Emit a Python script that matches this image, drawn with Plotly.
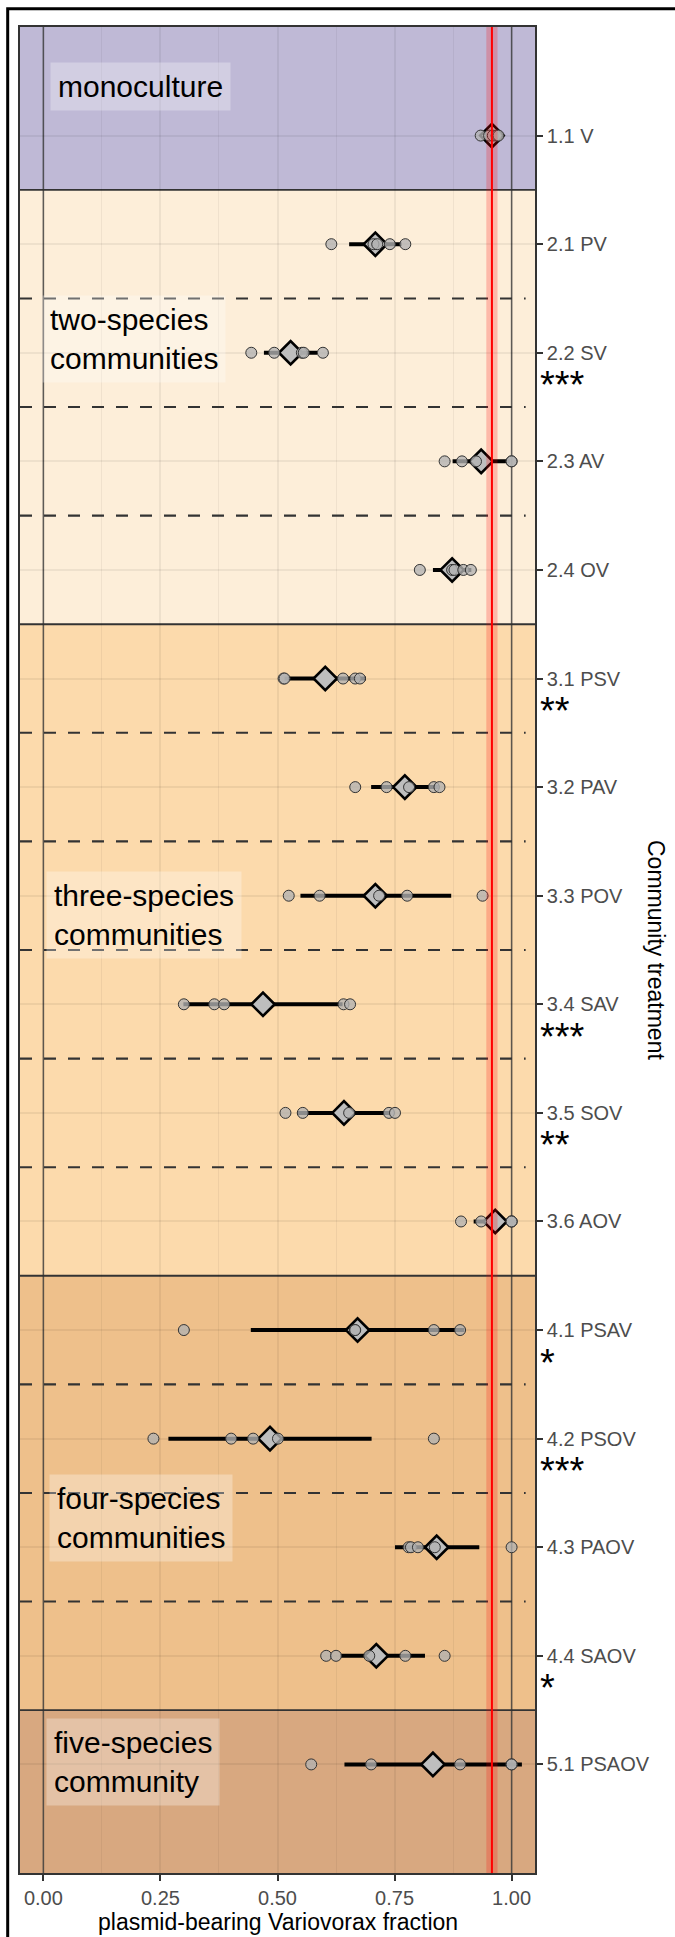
import plotly.graph_objects as go

# ---- data -----------------------------------------------------------------
treatments = ["1.1 V", "2.1 PV", "2.2 SV", "2.3 AV", "2.4 OV",
              "3.1 PSV", "3.2 PAV", "3.3 POV", "3.4 SAV", "3.5 SOV", "3.6 AOV",
              "4.1 PSAV", "4.2 PSOV", "4.3 PAOV", "4.4 SAOV", "5.1 PSAOV"]

# plasmid-bearing Variovorax fraction of each replicate
replicates = [
    [0.934, 0.952, 0.960, 0.968, 0.972],
    [0.615, 0.705, 0.713, 0.740, 0.773],
    [0.444, 0.493, 0.552, 0.556, 0.597],
    [0.857, 0.894, 0.924, 1.000, 1.000],
    [0.804, 0.873, 0.878, 0.897, 0.913],
    [0.513, 0.515, 0.640, 0.666, 0.676],
    [0.666, 0.733, 0.781, 0.834, 0.846],
    [0.524, 0.590, 0.717, 0.777, 0.938],
    [0.300, 0.365, 0.386, 0.641, 0.655],
    [0.517, 0.554, 0.653, 0.738, 0.751],
    [0.892, 0.935, 1.000, 1.000, 1.000],
    [0.300, 0.665, 0.666, 0.834, 0.890],
    [0.235, 0.401, 0.448, 0.501, 0.834],
    [0.780, 0.785, 0.800, 0.836, 1.000],
    [0.604, 0.625, 0.696, 0.773, 0.857],
    [0.572, 0.700, 0.890, 1.000, 1.000],
]

mean_fraction = [0.958, 0.709, 0.528, 0.935, 0.873, 0.602, 0.772, 0.709,
                 0.469, 0.642, 0.965, 0.671, 0.484, 0.840, 0.711, 0.832]
ci_lower = [0.946, 0.653, 0.471, 0.874, 0.832, 0.515, 0.700, 0.549,
            0.299, 0.542, 0.919, 0.443, 0.267, 0.751, 0.634, 0.643]
ci_upper = [0.970, 0.765, 0.585, 0.996, 0.914, 0.689, 0.844, 0.871,
            0.639, 0.740, 1.011, 0.899, 0.701, 0.931, 0.815, 1.022]

significance = ["", "", "***", "", "", "**", "", "", "***", "**", "",
                "*", "***", "", "*", ""]

group_names = ["monoculture", "two-species<br>communities",
               "three-species<br>communities", "four-species<br>communities",
               "five-species<br>community"]
group_sizes = [1, 4, 6, 4, 1]
group_colors = ["#BFB9D6", "#FDEED9", "#FCDAAC", "#EEC08B", "#D8A880"]

# label box placement (x in data units, y in treatment-index units)
label_x = [0.015, -0.002, 0.006, 0.011, 0.006]
label_y = [-0.45, 1.87, 7.18, 12.73, 14.98]

# ---- figure -----------------------------------------------------------------
FONT = "Liberation Sans, Arial, Helvetica, sans-serif"
n = len(treatments)
ypos = list(range(n))
Y_TOP, Y_BOTTOM = -1, n
X_MIN, X_MAX = -0.05, 1.05

fig = go.Figure()
shapes = []
annotations = []

# coloured background for each community size
start = 0
group_bounds = []
for gi, size in enumerate(group_sizes):
    end = start + size - 1
    y0 = Y_TOP if gi == 0 else start - 0.5
    y1 = Y_BOTTOM if gi == len(group_sizes) - 1 else end + 0.5
    shapes.append(dict(type="rect", xref="paper", yref="y", x0=0, x1=1,
                       y0=y0, y1=y1, fillcolor=group_colors[gi],
                       line=dict(width=0), layer="below"))
    group_bounds.append((start, end))
    start = end + 1

# reference verticals at 0 and 1
for xv in (0, 1):
    shapes.append(dict(type="line", xref="x", yref="paper", x0=xv, x1=xv,
                       y0=0, y1=1, line=dict(color="rgba(60,60,60,0.8)", width=1.5),
                       layer="below"))

# solid separators between groups, dashed separators inside groups
for gi, (s, e) in enumerate(group_bounds):
    if gi > 0:
        shapes.append(dict(type="line", xref="paper", yref="y", x0=0, x1=1,
                           y0=s - 0.5, y1=s - 0.5,
                           line=dict(color="#333333", width=1.8), layer="between"))
    for k in range(s, e):
        shapes.append(dict(type="line", xref="x", yref="y", x0=X_MIN, x1=1.03,
                           y0=k + 0.5, y1=k + 0.5,
                           line=dict(color="#333333", width=2.1, dash="12px,12px"),
                           layer="between"))

# monoculture mean with its confidence band
shapes.append(dict(type="rect", xref="x", yref="paper", x0=ci_lower[0], x1=ci_upper[0],
                   y0=0, y1=1, fillcolor="rgba(255,0,0,0.22)", line=dict(width=0),
                   layer="above"))
shapes.append(dict(type="line", xref="x", yref="paper", x0=mean_fraction[0],
                   x1=mean_fraction[0], y0=0, y1=1,
                   line=dict(color="#FF0000", width=2), layer="above"))

# outer frame
shapes.append(dict(type="rect", xref="paper", yref="paper", x0=-0.0239, x1=2.0,
                   y0=-1.0, y1=1.0099, line=dict(color="black", width=3),
                   fillcolor="rgba(0,0,0,0)", layer="above"))

# error bars
ex, ey = [], []
for i in range(n):
    ex += [ci_lower[i], ci_upper[i], None]
    ey += [ypos[i], ypos[i], None]
fig.add_trace(go.Scatter(x=ex, y=ey, mode="lines",
                         line=dict(color="black", width=4), hoverinfo="skip",
                         showlegend=False))

# means
fig.add_trace(go.Scatter(x=mean_fraction, y=ypos, mode="markers",
                         marker=dict(symbol="diamond", size=18, color="#BEBEBE",
                                     line=dict(color="black", width=2.6)),
                         showlegend=False))

# replicate points
px, py = [], []
for i, reps in enumerate(replicates):
    px += reps
    py += [ypos[i]] * len(reps)
fig.add_trace(go.Scatter(x=px, y=py, mode="markers",
                         marker=dict(symbol="circle", size=11,
                                     color="rgba(178,178,178,0.78)",
                                     line=dict(color="#333333", width=1)),
                         showlegend=False))

# community labels
for gi, name in enumerate(group_names):
    annotations.append(dict(x=label_x[gi], y=label_y[gi], xref="x", yref="y",
                            text=name, showarrow=False, xanchor="left",
                            yanchor="middle", align="left",
                            font=dict(family=FONT, size=30, color="black"),
                            bgcolor="rgba(255,255,255,0.30)", borderpad=7))

# significance stars
for i, sig in enumerate(significance):
    if sig:
        annotations.append(dict(x=1.006, y=ypos[i] + 0.30, xref="paper", yref="y",
                                text=sig, showarrow=False, xanchor="left",
                                yanchor="middle",
                                font=dict(family=FONT, size=38, color="black")))

# axis titles
annotations.append(dict(x=0.5, y=-0.0265, xref="paper", yref="paper",
                        text="plasmid-bearing Variovorax fraction", showarrow=False,
                        xanchor="center", yanchor="middle",
                        font=dict(family=FONT, size=23, color="black")))
annotations.append(dict(x=1.235, y=0.5, xref="paper", yref="paper",
                        text="Community treatment", showarrow=False, textangle=90,
                        xanchor="center", yanchor="middle",
                        font=dict(family=FONT, size=23, color="black")))

fig.update_layout(
    width=675, height=1937,
    margin=dict(l=20, r=140, t=27, b=64, autoexpand=False),
    paper_bgcolor="white", plot_bgcolor="white",
    shapes=shapes, annotations=annotations,
    font=dict(family=FONT),
    xaxis=dict(range=[X_MIN, X_MAX], tickmode="linear", tick0=0, dtick=0.25,
               tickformat=".2f", ticks="outside", ticklen=6, tickwidth=1.5,
               tickcolor="#333333",
               tickfont=dict(family=FONT, size=20, color="#4D4D4D"),
               showgrid=True, gridcolor="rgba(0,0,0,0.06)", gridwidth=1.5,
               minor=dict(dtick=0.125, tick0=0, showgrid=True,
                          gridcolor="rgba(0,0,0,0.05)", gridwidth=1),
               zeroline=False, showline=True, linecolor="#333333", linewidth=1.6,
               mirror=True),
    yaxis=dict(range=[Y_BOTTOM, Y_TOP], tickmode="array", tickvals=ypos,
               ticktext=treatments, side="right", ticks="outside", ticklen=6,
               tickwidth=1.5, tickcolor="#333333",
               tickfont=dict(family=FONT, size=20, color="#4D4D4D"),
               showgrid=True, gridcolor="rgba(0,0,0,0.06)", gridwidth=1.5,
               zeroline=False, showline=True, linecolor="#333333", linewidth=1.6,
               mirror=True),
)

fig.write_html("out.html")
